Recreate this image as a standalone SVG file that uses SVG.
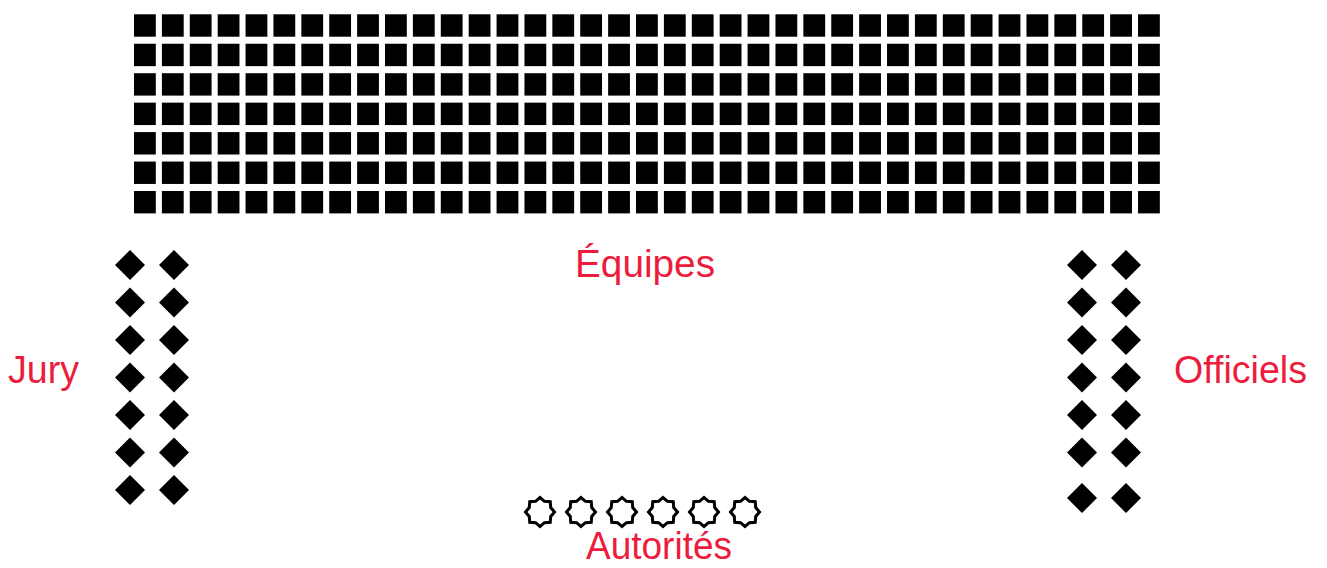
<svg xmlns="http://www.w3.org/2000/svg" xmlns:xlink="http://www.w3.org/1999/xlink" width="1327" height="568" viewBox="0 0 1327 568">
  <style>
    .lbl { font-family: "Liberation Sans", Arial, sans-serif; font-size: 38px; fill: #EC1C3C; }
    .star { fill: none; stroke: #000; stroke-width: 3; stroke-linejoin: miter; }
    .sq { fill: #000; }
  </style>
  <defs>
    <g id="row">
      <rect class="sq" x="134.00" y="0" width="21.8" height="22.4"/>
      <rect class="sq" x="161.89" y="0" width="21.8" height="22.4"/>
      <rect class="sq" x="189.78" y="0" width="21.8" height="22.4"/>
      <rect class="sq" x="217.67" y="0" width="21.8" height="22.4"/>
      <rect class="sq" x="245.56" y="0" width="21.8" height="22.4"/>
      <rect class="sq" x="273.45" y="0" width="21.8" height="22.4"/>
      <rect class="sq" x="301.34" y="0" width="21.8" height="22.4"/>
      <rect class="sq" x="329.23" y="0" width="21.8" height="22.4"/>
      <rect class="sq" x="357.12" y="0" width="21.8" height="22.4"/>
      <rect class="sq" x="385.01" y="0" width="21.8" height="22.4"/>
      <rect class="sq" x="412.90" y="0" width="21.8" height="22.4"/>
      <rect class="sq" x="440.79" y="0" width="21.8" height="22.4"/>
      <rect class="sq" x="468.68" y="0" width="21.8" height="22.4"/>
      <rect class="sq" x="496.57" y="0" width="21.8" height="22.4"/>
      <rect class="sq" x="524.46" y="0" width="21.8" height="22.4"/>
      <rect class="sq" x="552.35" y="0" width="21.8" height="22.4"/>
      <rect class="sq" x="580.24" y="0" width="21.8" height="22.4"/>
      <rect class="sq" x="608.13" y="0" width="21.8" height="22.4"/>
      <rect class="sq" x="636.02" y="0" width="21.8" height="22.4"/>
      <rect class="sq" x="663.91" y="0" width="21.8" height="22.4"/>
      <rect class="sq" x="691.80" y="0" width="21.8" height="22.4"/>
      <rect class="sq" x="719.69" y="0" width="21.8" height="22.4"/>
      <rect class="sq" x="747.58" y="0" width="21.8" height="22.4"/>
      <rect class="sq" x="775.47" y="0" width="21.8" height="22.4"/>
      <rect class="sq" x="803.36" y="0" width="21.8" height="22.4"/>
      <rect class="sq" x="831.25" y="0" width="21.8" height="22.4"/>
      <rect class="sq" x="859.14" y="0" width="21.8" height="22.4"/>
      <rect class="sq" x="887.03" y="0" width="21.8" height="22.4"/>
      <rect class="sq" x="914.92" y="0" width="21.8" height="22.4"/>
      <rect class="sq" x="942.81" y="0" width="21.8" height="22.4"/>
      <rect class="sq" x="970.70" y="0" width="21.8" height="22.4"/>
      <rect class="sq" x="998.59" y="0" width="21.8" height="22.4"/>
      <rect class="sq" x="1026.48" y="0" width="21.8" height="22.4"/>
      <rect class="sq" x="1054.37" y="0" width="21.8" height="22.4"/>
      <rect class="sq" x="1082.26" y="0" width="21.8" height="22.4"/>
      <rect class="sq" x="1110.15" y="0" width="21.8" height="22.4"/>
      <rect class="sq" x="1138.04" y="0" width="21.8" height="22.4"/>
    </g>
    <path id="dia" d="M0,-15 L15,0 L0,15 L-15,0 Z" fill="#000"/>
    <path id="st" class="star" d="M14.5,0 L10.72,4.44 L10.25,10.25 L4.44,10.72 L0,14.5 L-4.44,10.72 L-10.25,10.25 L-10.72,4.44 L-14.5,0 L-10.72,-4.44 L-10.25,-10.25 L-4.44,-10.72 L0,-14.5 L4.44,-10.72 L10.25,-10.25 L10.72,-4.44 Z"/>
  </defs>
  <rect width="1327" height="568" fill="#fff"/>

  <g id="equipes">
    <use xlink:href="#row" y="14.3"/>
    <use xlink:href="#row" y="43.75"/>
    <use xlink:href="#row" y="73.2"/>
    <use xlink:href="#row" y="102.65"/>
    <use xlink:href="#row" y="132.1"/>
    <use xlink:href="#row" y="161.55"/>
    <use xlink:href="#row" y="191"/>
    <text class="lbl" x="575" y="277" textLength="140" lengthAdjust="spacingAndGlyphs">Équipes</text>
  </g>

  <g id="jury">
    <use xlink:href="#dia" x="130" y="265"/><use xlink:href="#dia" x="174" y="265"/>
    <use xlink:href="#dia" x="130" y="302.5"/><use xlink:href="#dia" x="174" y="302.5"/>
    <use xlink:href="#dia" x="130" y="340"/><use xlink:href="#dia" x="174" y="340"/>
    <use xlink:href="#dia" x="130" y="377.5"/><use xlink:href="#dia" x="174" y="377.5"/>
    <use xlink:href="#dia" x="130" y="415"/><use xlink:href="#dia" x="174" y="415"/>
    <use xlink:href="#dia" x="130" y="452.5"/><use xlink:href="#dia" x="174" y="452.5"/>
    <use xlink:href="#dia" x="130" y="490"/><use xlink:href="#dia" x="174" y="490"/>
    <text class="lbl" x="8" y="383" textLength="71" lengthAdjust="spacingAndGlyphs">Jury</text>
  </g>

  <g id="officiels">
    <use xlink:href="#dia" x="1082" y="265"/><use xlink:href="#dia" x="1126" y="265"/>
    <use xlink:href="#dia" x="1082" y="302.5"/><use xlink:href="#dia" x="1126" y="302.5"/>
    <use xlink:href="#dia" x="1082" y="340"/><use xlink:href="#dia" x="1126" y="340"/>
    <use xlink:href="#dia" x="1082" y="377.5"/><use xlink:href="#dia" x="1126" y="377.5"/>
    <use xlink:href="#dia" x="1082" y="415"/><use xlink:href="#dia" x="1126" y="415"/>
    <use xlink:href="#dia" x="1082" y="452.5"/><use xlink:href="#dia" x="1126" y="452.5"/>
    <use xlink:href="#dia" x="1082" y="498"/><use xlink:href="#dia" x="1126" y="498"/>
    <text class="lbl" x="1174" y="383" textLength="133" lengthAdjust="spacingAndGlyphs">Officiels</text>
  </g>

  <g id="autorites">
    <use xlink:href="#st" x="540" y="512"/>
    <use xlink:href="#st" x="581" y="512"/>
    <use xlink:href="#st" x="622" y="512"/>
    <use xlink:href="#st" x="663" y="512"/>
    <use xlink:href="#st" x="704" y="512"/>
    <use xlink:href="#st" x="745" y="512"/>
    <text class="lbl" x="586" y="559" textLength="146" lengthAdjust="spacingAndGlyphs">Autorités</text>
  </g>
</svg>
